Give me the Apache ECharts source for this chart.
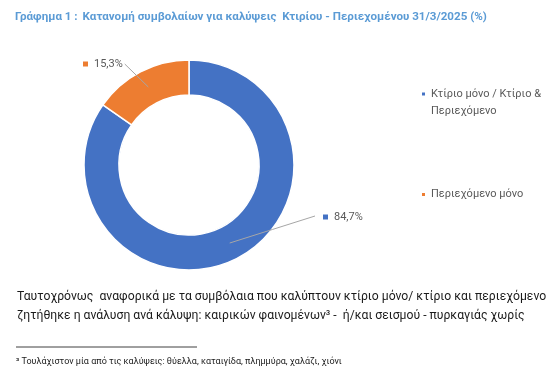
<!DOCTYPE html>
<html><head><meta charset="utf-8">
<script src="https://cdn.jsdelivr.net/npm/echarts@6/dist/echarts.min.js"></script>
<style>html,body{margin:0;padding:0;background:#fff}#c{width:556px;height:373px}</style>
</head><body><div id="c"></div>
<script>
const categories = ['Κτίριο μόνο / Κτίριο & Περιεχόμενο', 'Περιεχόμενο μόνο'];
const values = [84.7, 15.3];
const valueLabels = ['84,7%', '15,3%'];
const colors = ['#4472C4', '#ED7D31'];
const titleBold = 'Γράφημα 1 :';
const titleText = 'Κατανομή συμβολαίων για καλύψεις  Κτιρίου - Περιεχομένου 31/3/2025 (%)';
const bodyLines = [
  'Ταυτοχρόνως  αναφορικά με τα συμβόλαια που καλύπτουν κτίριο μόνο/ κτίριο και περιεχόμενο',
  'ζητήθηκε η ανάλυση ανά κάλυψη: καιρικών φαινομένων³ -  ή/και σεισμού - πυρκαγιάς χωρίς'
];
const footnote = '³ Τουλάχιστον μία από τις καλύψεις: θύελλα, καταιγίδα, πλημμύρα, χαλάζι, χιόνι';

const FONT = 'Roboto, "Noto Sans", sans-serif';
const chart = echarts.init(document.getElementById('c'), null, {renderer: 'canvas'});

const labelPos = [
  {x: 323, y: 217},
  {x: 83, y: 64}
];

const option = {
  backgroundColor: '#fff',
  animation: false,
  color: colors,
  title: {
    left: 15, top: 8, padding: 0,
    text: '{b|' + titleBold + '} {n|' + titleText + '}',
    textStyle: {
      rich: {
        b: {fontFamily: FONT, fontSize: 11.6, fontWeight: 'bold', color: '#5B9BD5'},
        n: {fontFamily: FONT, fontSize: 11.6, color: '#5B9BD5'}
      }
    }
  },
  legend: [
    {
      orient: 'vertical', left: 420, top: 68.5, padding: 0,
      icon: 'rect', itemWidth: 5, itemHeight: 5,
      data: [categories[0]],
      formatter: n => '\u00a0\n' + n.replace('& ', '&\n'),
      textStyle: {fontFamily: FONT, fontSize: 11, lineHeight: 17, color: '#595959'}
    },
    {
      orient: 'vertical', left: 420, top: 186, padding: 0,
      icon: 'rect', itemWidth: 5, itemHeight: 5,
      data: [categories[1]],
      textStyle: {fontFamily: FONT, fontSize: 11, lineHeight: 17, color: '#595959'}
    }
  ],
  series: [
    {
      type: 'pie', z: 2,
      center: [189, 165], radius: [70, 105],
      startAngle: 90, clockwise: true,
      label: {show: false}, labelLine: {show: false},
      itemStyle: {borderColor: '#fff', borderWidth: 1.5},
      emphasis: {disabled: true},
      data: categories.map((c, i) => ({name: c, value: values[i], itemStyle: {color: colors[i]}}))
    },
    {
      type: 'pie', z: 3, silent: true,
      center: [189, 165], radius: [0, 88],
      startAngle: 90, clockwise: true,
      itemStyle: {color: 'rgba(0,0,0,0)'},
      emphasis: {disabled: true},
      label: {show: true, position: 'outside'},
      labelLine: {show: true, lineStyle: {color: '#A6A6A6', width: 1}},
      data: categories.map((c, i) => ({
        name: c, value: values[i],
        label: {
          formatter: '{s|}{v|' + valueLabels[i] + '}',
          rich: {
            s: {width: 5, height: 5, backgroundColor: colors[i]},
            v: {fontFamily: FONT, fontSize: 11, color: '#595959', padding: [0, 0, 0, 6]}
          }
        }
      })),
      labelLayout: function (p) {
        const pos = labelPos[p.dataIndex];
        const p0 = p.labelLinePoints[0];
        let end;
        if (p.dataIndex === 0) end = [pos.x - 8, pos.y - 1];
        else end = [pos.x + p.labelRect.width + 2, pos.y];
        const mid = [(p0[0] + end[0]) / 2, (p0[1] + end[1]) / 2];
        return {x: pos.x, y: pos.y, align: 'left', verticalAlign: 'middle', labelLinePoints: [p0, mid, end]};
      }
    }
  ],
  graphic: [
    {type: 'text', left: 17, top: 291, style: {text: bodyLines[0], font: '12.2px ' + FONT, fill: '#1a1a1a'}},
    {type: 'text', left: 17, top: 310, style: {text: bodyLines[1], font: '12.2px ' + FONT, fill: '#1a1a1a'}},
    {type: 'line', shape: {x1: 16, y1: 347, x2: 197, y2: 347}, style: {stroke: '#404040', lineWidth: 1}},
    {type: 'text', left: 16, top: 357, style: {text: footnote, font: '9px ' + FONT, fill: '#1a1a1a'}}
  ]
};
chart.setOption(option);
</script>
</body></html>
